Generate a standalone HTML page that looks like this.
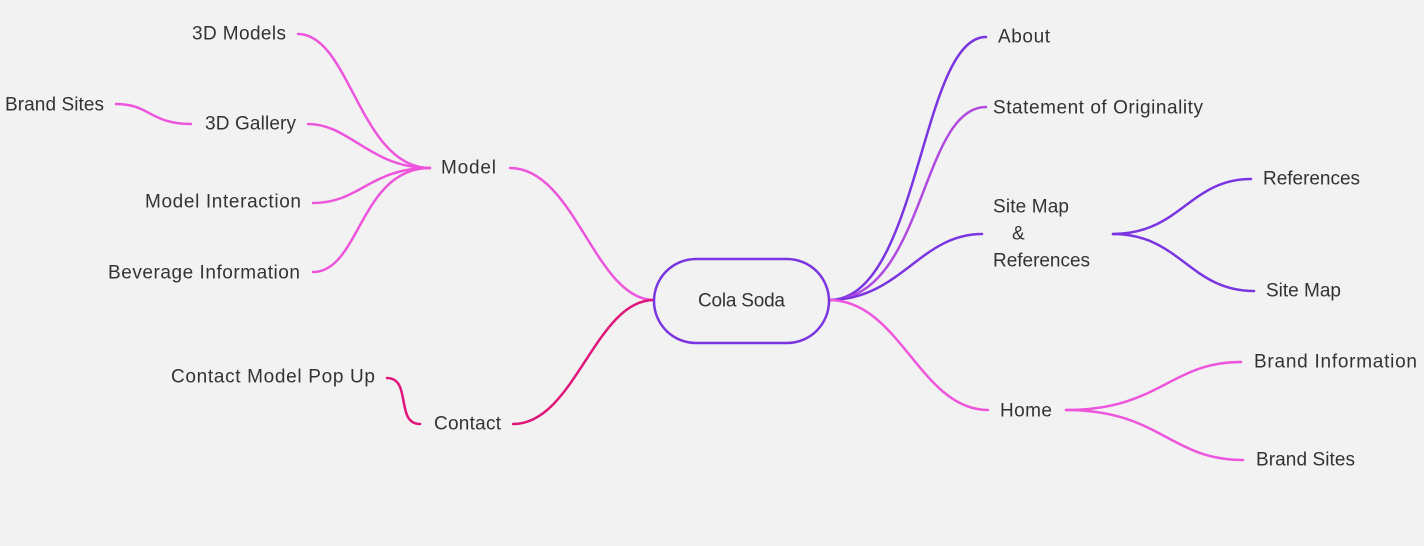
<!DOCTYPE html>
<html><head><meta charset="utf-8"><style>
html,body{margin:0;padding:0;background:#f2f2f2;}
svg{display:block}
text{font-family:"Liberation Sans",sans-serif;font-size:19px;fill:#333;dominant-baseline:central}
</style></head><body>
<svg width="1424" height="546" viewBox="0 0 1424 546" xmlns="http://www.w3.org/2000/svg">
<rect width="1424" height="546" fill="#f2f2f2"/>
<g fill="none" stroke-width="2.5" stroke-linecap="round">
<path d="M654,300 C595,300 575,168 510,168" stroke="#ee55dd"/>
<path d="M654,300 C595,300 575,424 513,424" stroke="#e0157a"/>
<path d="M430,168 C360,168 350,34 298,34" stroke="#ee55dd"/>
<path d="M430,168 C370,168 350,124 308,124" stroke="#ee55dd"/>
<path d="M430,168 C370,168 360,203 313,203" stroke="#ee55dd"/>
<path d="M430,168 C360,168 360,272 313,272" stroke="#ee55dd"/>
<path d="M191,124 C150,124 150,104 116,104" stroke="#ee55dd"/>
<path d="M420,424 C395,424 412,378 387,378" stroke="#e0157a"/>
<path d="M829,300 C920,300 920,37 986,37" stroke="#7b35e0"/>
<path d="M829,300 C925,300 920,107 986,107" stroke="#b04ae0"/>
<path d="M829,300 C900,300 920,234 982,234" stroke="#7b35e0"/>
<path d="M829,300 C900,300 920,410 988,410" stroke="#ee55dd"/>
<path d="M1113,234 C1180,234 1190,179 1251,179" stroke="#7b35e0"/>
<path d="M1113,234 C1180,234 1190,291 1254,291" stroke="#7b35e0"/>
<path d="M1066,410 C1160,410 1170,362 1241,362" stroke="#ee55dd"/>
<path d="M1066,410 C1160,410 1170,460 1243,460" stroke="#ee55dd"/>
<rect x="654" y="259" width="175" height="84" rx="42" ry="42" stroke="#7b35e0" fill="#f2f2f2"/>
</g>
<text x="192" y="34" textLength="94">3D Models</text>
<text x="5" y="105" textLength="99">Brand Sites</text>
<text x="205" y="124" textLength="91">3D Gallery</text>
<text x="145" y="202" textLength="156">Model Interaction</text>
<text x="108" y="273" textLength="192">Beverage Information</text>
<text x="441" y="168" textLength="55">Model</text>
<text x="171" y="377" textLength="204">Contact Model Pop  Up</text>
<text x="434" y="424" textLength="67">Contact</text>
<text x="698" y="301" textLength="87">Cola Soda</text>
<text x="998" y="37" textLength="52">About</text>
<text x="993" y="108" textLength="210">Statement of Originality</text>
<text x="993" y="207" textLength="76">Site Map</text>
<text x="1012" y="234">&amp;</text>
<text x="993" y="261" textLength="97">References</text>
<text x="1263" y="179" textLength="97">References</text>
<text x="1266" y="291" textLength="75">Site Map</text>
<text x="1000" y="411" textLength="52">Home</text>
<text x="1254" y="362" textLength="163">Brand Information</text>
<text x="1256" y="460" textLength="99">Brand Sites</text>
</svg>
</body></html>
